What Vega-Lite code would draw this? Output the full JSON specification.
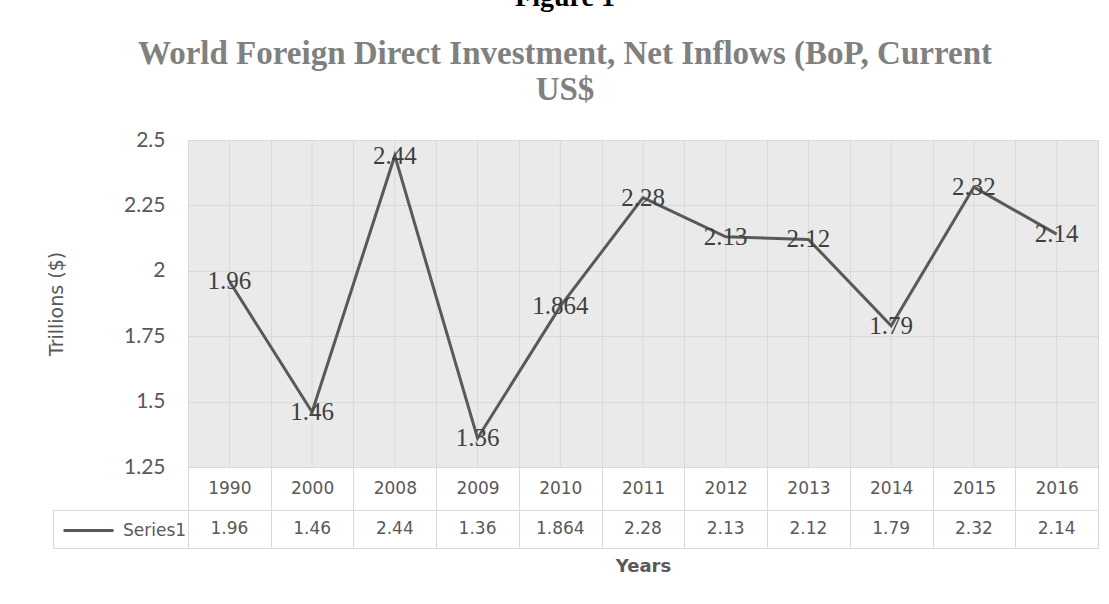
{
  "$schema": "https://vega.github.io/schema/vega-lite/v6.json",
  "padding": {"left": 47, "top": -17, "right": 5, "bottom": 5},
  "background": "white",
  "title": {
    "text": "Figure 1",
    "subtitle": ["World Foreign Direct Investment, Net Inflows (BoP, Current", "US$"],
    "anchor": "middle",
    "dx": -8,
    "font": "Liberation Serif",
    "fontSize": 28,
    "fontWeight": "bold",
    "color": "#000000",
    "subtitleFont": "Liberation Serif",
    "subtitleFontSize": 33,
    "subtitleFontWeight": "bold",
    "subtitleColor": "#808080",
    "subtitleLineHeight": 36,
    "subtitlePadding": 26,
    "offset": 22
  },
  "datasets": {
    "fdi": [
      {"year": "1990", "value": 1.96, "series": "Series1"},
      {"year": "2000", "value": 1.46, "series": "Series1"},
      {"year": "2008", "value": 2.44, "series": "Series1"},
      {"year": "2009", "value": 1.36, "series": "Series1"},
      {"year": "2010", "value": 1.864, "series": "Series1"},
      {"year": "2011", "value": 2.28, "series": "Series1"},
      {"year": "2012", "value": 2.13, "series": "Series1"},
      {"year": "2013", "value": 2.12, "series": "Series1"},
      {"year": "2014", "value": 1.79, "series": "Series1"},
      {"year": "2015", "value": 2.32, "series": "Series1"},
      {"year": "2016", "value": 2.14, "series": "Series1"}
    ]
  },
  "bounds": "flush",
  "spacing": 43,
  "resolve": {"legend": {"color": "independent"}},
  "vconcat": [
    {
      "width": 910,
      "height": 327,
      "data": {"name": "fdi"},
      "view": {"fill": "#eaeaea", "stroke": "#d9d9d9"},
      "encoding": {
        "x": {
          "field": "year",
          "type": "ordinal",
          "scale": {"paddingInner": 0, "paddingOuter": 0},
          "axis": {
            "title": null,
            "labelFont": "DejaVu Sans",
            "labelFontSize": 17,
            "labelColor": "#595959",
            "labelAngle": 0,
            "labelBaseline": "middle",
            "labelPadding": -21.5,
            "tickBand": "extent",
            "tickSize": 43,
            "tickColor": "#d9d9d9",
            "domainColor": "#d9d9d9",
            "grid": true,
            "gridColor": "#d9d9d9"
          }
        }
      },
      "layer": [
        {
          "mark": {"type": "rule", "color": "#d9d9d9", "strokeWidth": 1},
          "encoding": {}
        },
        {
          "mark": {"type": "line", "strokeWidth": 3, "color": "#595959"},
          "encoding": {
            "y": {
              "field": "value",
              "type": "quantitative",
              "scale": {"domain": [1.25, 2.5], "zero": false, "nice": false},
              "axis": {
                "values": [1.25, 1.5, 1.75, 2, 2.25, 2.5],
                "format": ".2~f",
                "title": "Trillions ($)",
                "titleFont": "DejaVu Sans",
                "titleFontSize": 19,
                "titleFontWeight": "normal",
                "titleColor": "#595959",
                "titlePadding": 57,
                "labelFont": "Lato",
                "labelFontSize": 21,
                "labelColor": "#595959",
                "labelPadding": 23,
                "ticks": false,
                "domain": false,
                "grid": true,
                "gridColor": "#d9d9d9"
              }
            }
          }
        },
        {
          "mark": {"type": "text", "align": "center", "baseline": "middle", "font": "Liberation Serif", "fontSize": 25, "color": "#404040"},
          "encoding": {
            "y": {
              "field": "value",
              "type": "quantitative",
              "scale": {"domain": [1.25, 2.5], "zero": false, "nice": false}
            },
            "text": {"field": "value", "type": "quantitative"}
          }
        }
      ]
    },
    {
      "width": 910,
      "height": 38,
      "data": {"name": "fdi"},
      "view": {"fill": "white", "stroke": "#d9d9d9"},
      "mark": {"type": "text", "font": "DejaVu Sans", "fontSize": 17},
      "encoding": {
        "x": {
          "field": "year",
          "type": "ordinal",
          "scale": {"paddingInner": 0, "paddingOuter": 0},
          "axis": {
            "title": "Years",
            "titleFont": "DejaVu Sans",
            "titleFontSize": 18,
            "titleFontWeight": "bold",
            "titleColor": "#595959",
            "titlePadding": 9,
            "labels": false,
            "ticks": false,
            "domain": false,
            "grid": true,
            "gridColor": "#d9d9d9",
            "tickBand": "extent"
          }
        },
        "y": {
          "field": "series",
          "type": "nominal",
          "scale": {"paddingInner": 0, "paddingOuter": 0},
          "axis": {
            "title": null,
            "labels": false,
            "offset": 135,
            "domainColor": "#d9d9d9",
            "tickBand": "extent",
            "tickSize": -135,
            "tickColor": "#d9d9d9",
            "grid": false
          }
        },
        "color": {
          "field": "series",
          "type": "nominal",
          "scale": {"range": ["#595959"]},
          "legend": {
            "orient": "none",
            "legendX": -126,
            "legendY": -6,
            "title": null,
            "symbolType": "stroke",
            "symbolSize": 2500,
            "symbolStrokeWidth": 3,
            "symbolStrokeColor": "#595959",
            "labelFont": "DejaVu Sans",
            "labelFontSize": 17,
            "labelColor": "#595959",
            "labelOffset": 8,
            "padding": 0
          }
        },
        "text": {"field": "value", "type": "quantitative"}
      }
    }
  ]
}
